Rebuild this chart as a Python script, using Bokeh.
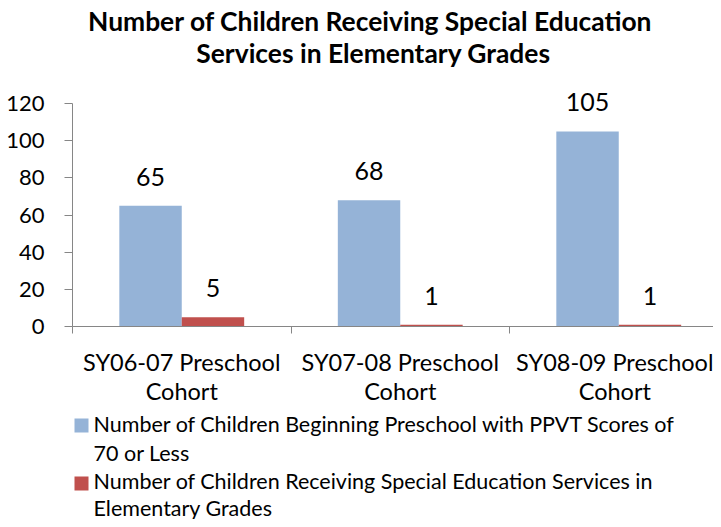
from bokeh.plotting import figure
from bokeh.layouts import column
from bokeh.models import Range1d, FixedTicker, ColumnDataSource
from bokeh.core.properties import value
from bokeh.embed import file_html
from bokeh.resources import INLINE

categories = ["SY06-07 Preschool\nCohort", "SY07-08 Preschool\nCohort", "SY08-09 Preschool\nCohort"]
ppvt_low = [65, 68, 105]
sped = [5, 1, 1]
series_lines = [["Number of Children Beginning Preschool with PPVT Scores of", "70 or Less"],
                ["Number of Children Receiving Special Education Services in", "Elementary Grades"]]
title_lines = ["Number of  Children Receiving Special Education",
               "Services in Elementary Grades"]
y_ticks = [0, 20, 40, 60, 80, 100, 120]
y_max = 120

BLUE = "#95B3D7"
RED = "#C0504D"
GREY = "#868686"
FONT = "Lato"
W = 713
LEFT = 72
TITLE_H = 76
AXIS_TOP = 103     # page y of the 120 tick
FRAME_BOTTOM = 326 # page y of 0
LEG_TOP = 412
MAIN_H = LEG_TOP - TITLE_H
H = 519


def blank(h, y0, y1):
    f = figure(width=W, height=h, output_backend="svg", toolbar_location=None,
               x_range=Range1d(LEFT, W), y_range=Range1d(y0, y1),
               x_axis_type=None, y_axis_type=None,
               min_border_left=LEFT, min_border_right=0,
               min_border_top=0, min_border_bottom=0)
    f.grid.visible = False
    f.outline_line_color = None
    return f


# ---- title block (y = pixels from top of page) ----
t = blank(TITLE_H, TITLE_H, 0)
t.text(x=[373, 373], y=[20, 52], text=title_lines, text_align="center",
       text_baseline="middle", text_font=value(FONT), text_font_style="bold",
       text_font_size="26.4px", text_color="black")

# ---- main chart ----
n = len(categories)
bw = 1 / 3.5
centers = [i + 0.5 for i in range(n)]
src_a = ColumnDataSource(dict(x=[c - bw / 2 for c in centers], top=ppvt_low,
                              lab=[str(v) for v in ppvt_low]))
src_b = ColumnDataSource(dict(x=[c + bw / 2 for c in centers], top=sped,
                              lab=[str(v) for v in sped]))

frame_h = FRAME_BOTTOM - TITLE_H
y_end = y_max * frame_h / (FRAME_BOTTOM - AXIS_TOP)

p = figure(width=W, height=MAIN_H, output_backend="svg", toolbar_location=None,
           x_range=Range1d(0, (W - LEFT) / 218.5), y_range=Range1d(0, y_end),
           min_border_left=LEFT, min_border_right=0, min_border_top=0,
           min_border_bottom=MAIN_H - frame_h)
p.outline_line_color = None
p.grid.visible = False

p.vbar(x="x", top="top", width=bw, source=src_a, fill_color=BLUE, line_color=None)
p.vbar(x="x", top="top", width=bw, source=src_b, fill_color=RED, line_color=None)

for src in (src_a, src_b):
    p.text(x="x", y="top", text="lab", source=src, text_align="center",
           text_baseline="middle", y_offset=-29, text_font=value(FONT),
           text_font_size="25px", text_color="black")

ya = p.yaxis[0]
ya.ticker = FixedTicker(ticks=y_ticks)
ya.bounds = (0, y_max)
ya.axis_line_color = GREY
ya.major_tick_line_color = GREY
ya.major_tick_out = 8
ya.major_tick_in = 0
ya.minor_tick_line_color = None
ya.major_label_text_font = FONT
ya.major_label_text_font_size = "22px"
ya.major_label_text_color = "black"
ya.major_label_standoff = 20

xa = p.xaxis[0]
xa.ticker = FixedTicker(ticks=centers, minor_ticks=[0, 1, 2, 3])
xa.major_label_overrides = {c: lab for c, lab in zip(centers, categories)}
xa.axis_line_color = GREY
xa.major_tick_line_color = None
xa.major_tick_out = 0
xa.major_tick_in = 0
xa.minor_tick_line_color = GREY
xa.minor_tick_out = 7
xa.minor_tick_in = 0
xa.major_label_text_font = FONT
xa.major_label_text_font_size = "23.5px"
xa.major_label_text_color = "black"
xa.major_label_standoff = 14
xa.major_label_text_line_height = 1.05

# ---- legend block (y = pixels from top of page) ----
lg = blank(H - LEG_TOP, H, LEG_TOP)
lg.rect(x=[81, 81], y=[425, 483], width=14, height=14, fill_color=[BLUE, RED],
        line_color=None)
lg.text(x=[93] * 4, y=[423, 452, 480, 507],
        text=series_lines[0] + series_lines[1], text_align="left",
        text_baseline="middle", text_font=value(FONT), text_font_size="21.5px",
        text_color="black")

layout = column(t, p, lg, spacing=0)
open("out.html", "w").write(file_html(layout, INLINE))
